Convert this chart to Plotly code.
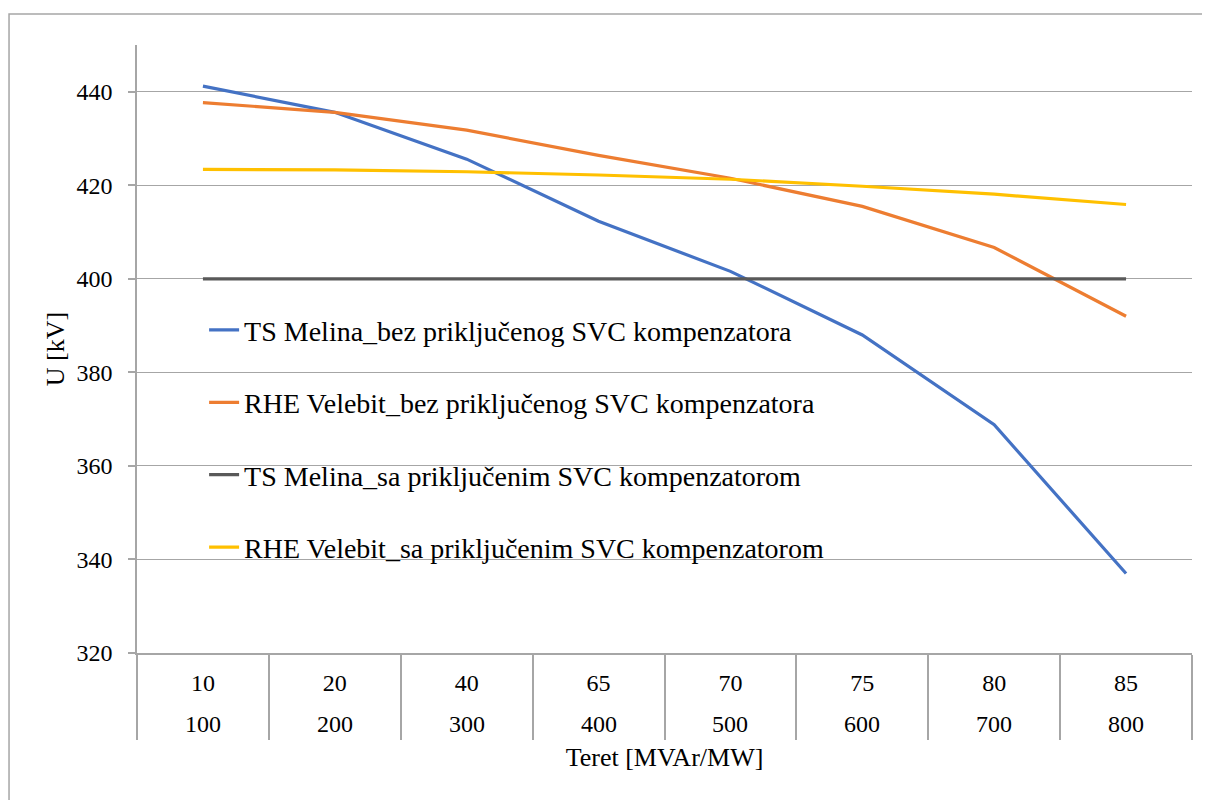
import plotly.graph_objects as go

inner_labels = ["10", "20", "40", "65", "70", "75", "80", "85"]
outer_labels = ["100", "200", "300", "400", "500", "600", "700", "800"]

ts_melina_bez = [441.2, 435.6, 425.6, 412.3, 401.6, 388.0, 368.8, 337.0]
rhe_velebit_bez = [437.7, 435.6, 431.8, 426.4, 421.5, 415.5, 406.7, 392.0]
ts_melina_sa = [400.0, 400.0, 400.0, 400.0, 400.0, 400.0, 400.0, 400.0]
rhe_velebit_sa = [423.4, 423.3, 422.9, 422.2, 421.3, 419.8, 418.1, 415.9]

names = [
    "TS Melina_bez priključenog SVC kompenzatora",
    "RHE Velebit_bez priključenog SVC kompenzatora",
    "TS Melina_sa priključenim SVC kompenzatorom",
    "RHE Velebit_sa priključenim SVC kompenzatorom",
]
colors = ["#4472C4", "#ED7D31", "#595959", "#FFC000"]
series = [ts_melina_bez, rhe_velebit_bez, ts_melina_sa, rhe_velebit_sa]

FONT = "Liberation Serif"
GRID = "#a6a6a6"
n = len(inner_labels)

fig = go.Figure()
for i, (nm, col, vals) in enumerate(zip(names, colors, series)):
    fig.add_trace(go.Scatter(
        x=inner_labels,
        y=vals,
        mode="lines",
        name=nm,
        legendgroup=f"g{i}",
        line=dict(color=col, width=3.2),
    ))

# second row of category labels (MW values), placed at each category index
annotations = [
    dict(x=idx, y=-0.1168, xref="x", yref="paper", text=outer,
         showarrow=False, yanchor="middle", xanchor="center",
         font=dict(family=FONT, size=24, color="#000000"))
    for idx, outer in enumerate(outer_labels)
]

fig.update_layout(
    width=1210,
    height=800,
    paper_bgcolor="white",
    plot_bgcolor="white",
    margin=dict(l=129, r=26, t=37, b=155),
    font=dict(family=FONT, size=24, color="#000000"),
    showlegend=True,
    legend=dict(
        x=0.0636, y=0.572, xanchor="left", yanchor="top",
        bgcolor="rgba(0,0,0,0)",
        font=dict(family=FONT, size=28, color="#000000"),
        tracegroupgap=33,
    ),
    xaxis=dict(
        type="category",
        range=[-0.5, n - 0.5],
        showgrid=False,
        showline=True,
        linecolor=GRID,
        linewidth=1.5,
        ticks="outside",
        tickson="boundaries",
        ticklen=85,
        tickwidth=1.5,
        tickcolor=GRID,
        ticklabelstandoff=7,
        tickfont=dict(family=FONT, size=24, color="#000000"),
        automargin=False,
        title=dict(text="Teret [MVAr/MW]", font=dict(family=FONT, size=26, color="#000000"), standoff=53),
    ),
    yaxis=dict(
        range=[320, 450],
        tickvals=[320, 340, 360, 380, 400, 420, 440],
        showgrid=True,
        gridcolor=GRID,
        gridwidth=1.3,
        showline=True,
        linecolor=GRID,
        linewidth=1.5,
        ticks="outside",
        ticklen=7,
        tickwidth=1.5,
        tickcolor=GRID,
        zeroline=False,
        ticklabelstandoff=11,
        automargin=False,
        tickfont=dict(family=FONT, size=24, color="#000000"),
        title=dict(text="U [kV]", font=dict(family=FONT, size=26, color="#000000"), standoff=4),
    ),
    annotations=annotations,
    shapes=[dict(
        type="rect", xref="paper", yref="paper",
        x0=-0.1213, x1=1.03, y0=-0.3, y1=1.051,
        line=dict(color=GRID, width=1.5),
        fillcolor="rgba(0,0,0,0)", layer="below",
    )],
)

fig.write_html("out.html")
